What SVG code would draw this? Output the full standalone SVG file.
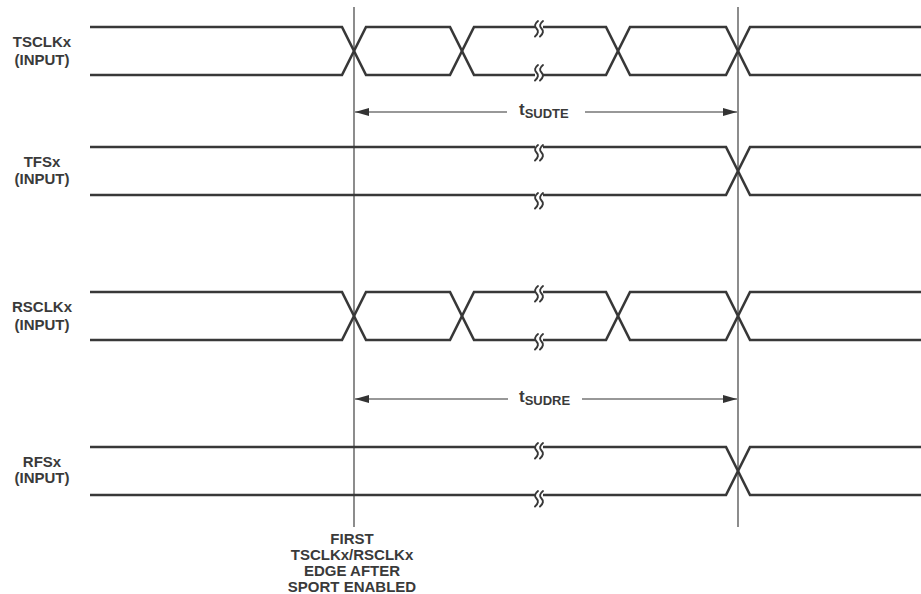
<svg xmlns="http://www.w3.org/2000/svg" width="921" height="594" viewBox="0 0 921 594">
<style>
.sig{fill:none;stroke:#383838;stroke-width:2.6;stroke-linejoin:miter}
.brk{fill:none;stroke:#383838;stroke-width:1.9;stroke-linecap:round}
.ref{fill:none;stroke:#707070;stroke-width:1.6}
.dim{fill:none;stroke:#333;stroke-width:1.1}
.lbl{font-family:"Liberation Sans",Arial,sans-serif;font-weight:bold;font-size:15px;fill:#3a3a3a;text-anchor:middle}
.t{font-family:"Liberation Sans",Arial,sans-serif;font-weight:bold;fill:#3a3a3a}
</style>
<defs>
<marker id="ah" viewBox="0 0 14 8" refX="14" refY="4" markerWidth="14" markerHeight="8" markerUnits="userSpaceOnUse" orient="auto-start-reverse">
<path d="M0,0 L14,4 L0,8 z" fill="#333"/>
</marker>
<g id="squig">
<path class="brk" d="M-1,-8 Q-6,-4 -2.5,-0.5 Q1,3 -4,7.5"/>
<path class="brk" d="M4,-8 Q-1,-4 2.5,-0.5 Q6,3 1,7.5"/>
</g>
</defs>

<g id="ref-lines">
<line class="ref" x1="354" y1="7" x2="354" y2="527"/>
<line class="ref" x1="738" y1="7" x2="738" y2="527"/>
</g>

<g id="TSCLKx">
<text class="lbl" x="42" y="47">TSCLKx</text>
<text class="lbl" x="42" y="65">(INPUT)</text>
<path class="sig" d="M90,27 H342 L366,75 H450 L474,27 H535 M543,27 H606 L630,75 H726 L750,27 H921"/>
<path class="sig" d="M90,75 H342 L366,27 H450 L474,75 H535 M543,75 H606 L630,27 H726 L750,75 H921"/>
<use href="#squig" x="539" y="29"/>
<use href="#squig" x="539" y="73"/>
</g>

<g id="TFSx">
<text class="lbl" x="42" y="167">TFSx</text>
<text class="lbl" x="42" y="184">(INPUT)</text>
<path class="sig" d="M90,147 H535 M543,147 H726 L750,195 H921"/>
<path class="sig" d="M90,195 H535 M543,195 H726 L750,147 H921"/>
<use href="#squig" x="539" y="153"/>
<use href="#squig" x="539" y="201"/>
</g>

<g id="RSCLKx">
<text class="lbl" x="42" y="312">RSCLKx</text>
<text class="lbl" x="42" y="330">(INPUT)</text>
<path class="sig" d="M90,292 H342 L366,340 H450 L474,292 H535 M543,292 H606 L630,340 H726 L750,292 H921"/>
<path class="sig" d="M90,340 H342 L366,292 H450 L474,340 H535 M543,340 H606 L630,292 H726 L750,340 H921"/>
<use href="#squig" x="539" y="294"/>
<use href="#squig" x="539" y="342"/>
</g>

<g id="RFSx">
<text class="lbl" x="42" y="467">RFSx</text>
<text class="lbl" x="42" y="483">(INPUT)</text>
<path class="sig" d="M90,447 H535 M543,447 H726 L750,495 H921"/>
<path class="sig" d="M90,495 H535 M543,495 H726 L750,447 H921"/>
<use href="#squig" x="539" y="451"/>
<use href="#squig" x="539" y="499"/>
</g>

<g id="connectors">
<line class="dim" x1="507" y1="112" x2="355" y2="112" marker-end="url(#ah)"/>
<line class="dim" x1="585" y1="112" x2="737" y2="112" marker-end="url(#ah)"/>
<line class="dim" x1="508" y1="399" x2="355" y2="399" marker-end="url(#ah)"/>
<line class="dim" x1="582" y1="399" x2="737" y2="399" marker-end="url(#ah)"/>
</g>

<g id="tSUDTE">
<text class="t" x="519" y="115" font-size="17">t<tspan font-size="13" dy="2.5">SUDTE</tspan></text>
</g>
<g id="tSUDRE">
<text class="t" x="519" y="402" font-size="17">t<tspan font-size="13" dy="2.5">SUDRE</tspan></text>
</g>

<g id="note">
<text class="lbl" x="352" y="544" font-size="14">FIRST</text>
<text class="lbl" x="352" y="560" font-size="14">TSCLKx/RSCLKx</text>
<text class="lbl" x="352" y="576" font-size="14">EDGE AFTER</text>
<text class="lbl" x="352" y="592" font-size="14">SPORT ENABLED</text>
</g>
</svg>
